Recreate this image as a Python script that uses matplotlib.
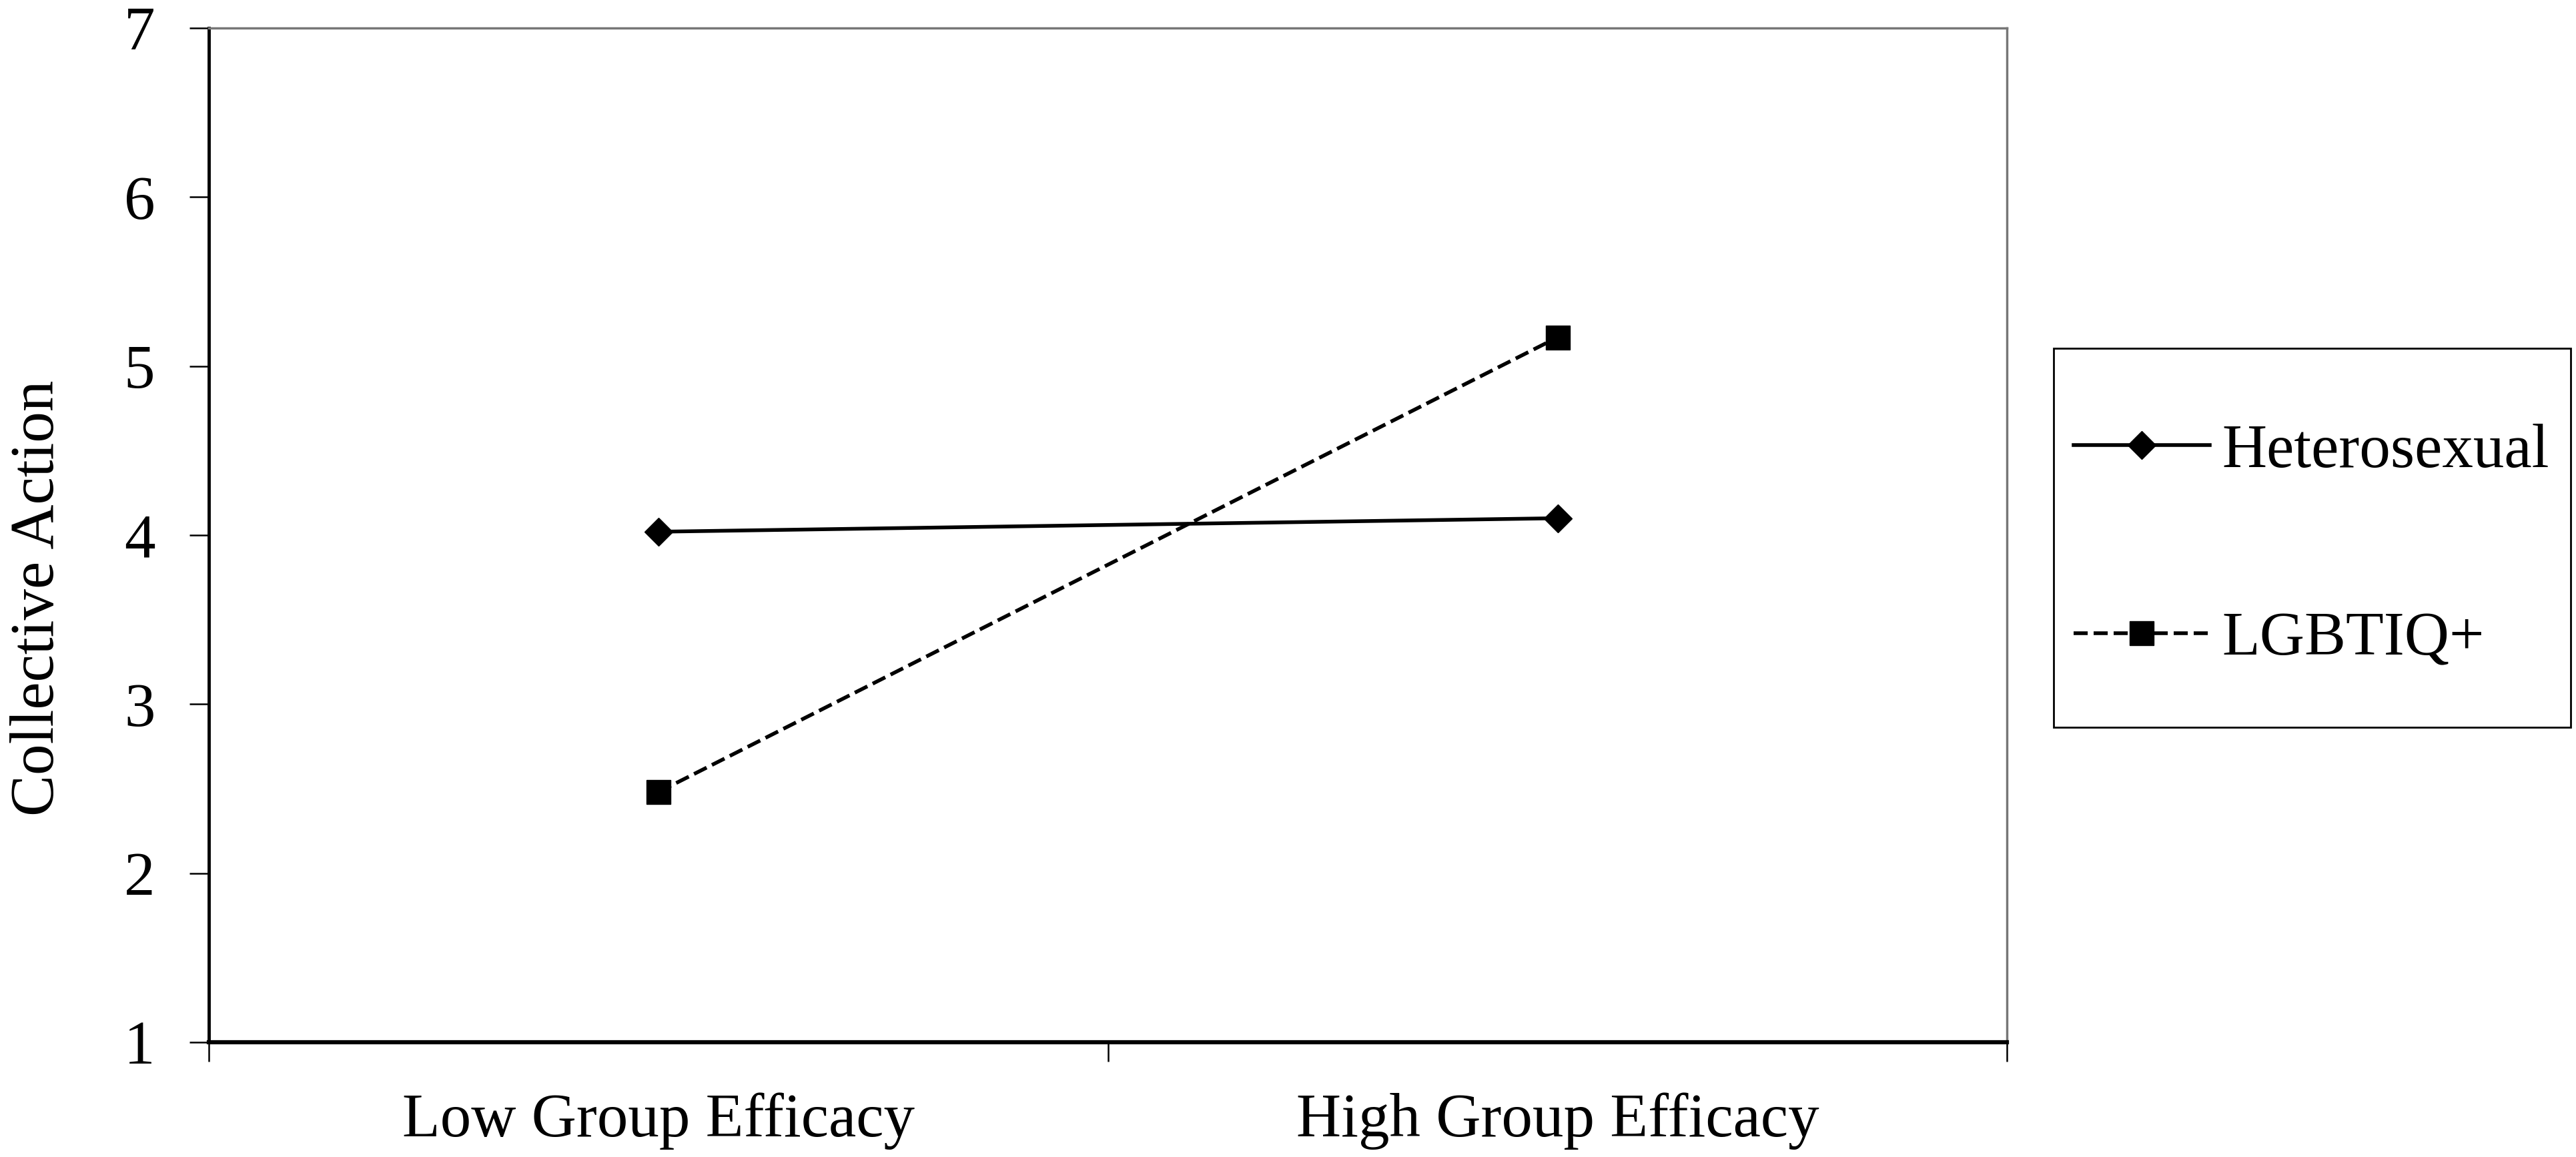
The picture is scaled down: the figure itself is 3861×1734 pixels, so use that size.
import matplotlib
matplotlib.use('Agg')
import matplotlib.pyplot as plt
from matplotlib.patches import Rectangle

plt.rcParams['font.family'] = 'Liberation Serif'

# data
conditions = ['Low Group Efficacy', 'High Group Efficacy']
groups = ['Heterosexual', 'LGBTIQ+']
heterosexual = [4.02, 4.10]
lgbtiq = [2.48, 5.17]
y_ticks = [1, 2, 3, 4, 5, 6, 7]

fig = plt.figure(figsize=(38.62, 17.34), dpi=100)
ax = fig.add_axes([0.081, 0.0992, 0.698, 0.8766])

xpos = [i + 0.5 for i in range(len(conditions))]
ax.plot(xpos, heterosexual, color='black', lw=4, ls='-', marker='D',
        ms=21, mec='black', mfc='black', mew=1, label=groups[0])
ax.plot(xpos, lgbtiq, color='black', lw=4, ls=(0, (3.8, 1.6)), marker='s',
        ms=26, mec='black', mfc='black', mew=1, label=groups[1])

ax.set_xlim(0, len(conditions))
ax.set_ylim(1, 7)
ax.set_yticks(y_ticks)
ax.set_yticklabels([str(t) for t in y_ticks])
ax.set_xticks(range(len(conditions) + 1))
ax.set_xticklabels([])
ax.set_xticks(xpos, minor=True)
ax.set_xticklabels(conditions, minor=True)

ax.tick_params(axis='y', which='major', direction='out', length=21, width=1.8,
               labelsize=67, pad=37)
ax.tick_params(axis='x', which='major', direction='out', length=21, width=1.8)
ax.tick_params(axis='x', which='minor', length=0, labelsize=67, pad=54)

for side in ['top', 'right']:
    ax.spines[side].set_color('#777777')
    ax.spines[side].set_linewidth(2.5)
ax.spines['left'].set_color('black')
ax.spines['left'].set_linewidth(3.5)
ax.spines['bottom'].set_color('black')
ax.spines['bottom'].set_linewidth(4.5)

ax.set_ylabel('Collective Action', fontsize=67)
ax.yaxis.set_label_coords(-0.079, 0.438)

leg = ax.legend(loc='center left', bbox_to_anchor=(0.8048, 0.5283),
                bbox_transform=fig.transFigure, frameon=False, fontsize=67,
                handlelength=2.19, handletextpad=0.2, labelspacing=2.11,
                borderpad=0, borderaxespad=0)
fig.patches.append(Rectangle((0.797, 0.3714), 0.2007, 0.3276,
                             transform=fig.transFigure, fill=False,
                             edgecolor='black', linewidth=2))

plt.savefig('out.png', dpi=100, facecolor='white')
